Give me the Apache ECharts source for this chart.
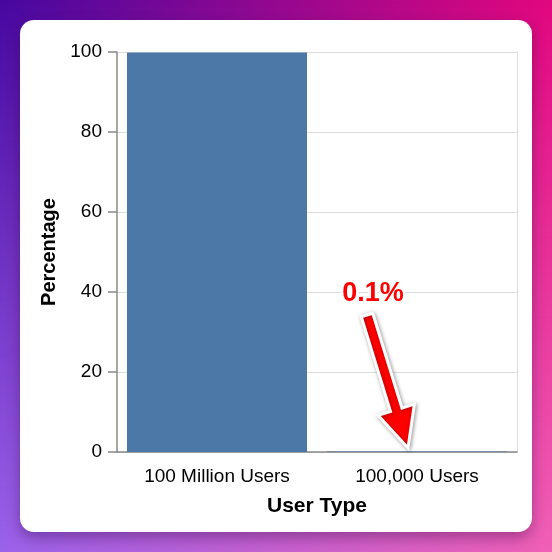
<!DOCTYPE html>
<html>
<head>
<meta charset="utf-8">
<script src="https://cdn.jsdelivr.net/npm/echarts@6/dist/echarts.min.js"></script>
<style>
  html, body { margin: 0; padding: 0; width: 552px; height: 552px; overflow: hidden; }
  #bgTop { position: absolute; left: 0; top: 0; width: 552px; height: 552px;
    background: linear-gradient(to right, #4608a0, #e2077e); }
  #bgBot { position: absolute; left: 0; top: 0; width: 552px; height: 552px;
    background: linear-gradient(to right, #9b62ea, #f060b6);
    -webkit-mask-image: linear-gradient(to bottom, rgba(0,0,0,0), rgba(0,0,0,1));
    mask-image: linear-gradient(to bottom, rgba(0,0,0,0), rgba(0,0,0,1)); }
  #card { position: absolute; left: 20px; top: 20px; width: 512px; height: 512px;
    background: #fff; border-radius: 14px; box-shadow: 0 6px 14px rgba(40,0,60,0.35); }
  #chart { position: absolute; left: 0; top: 0; width: 552px; height: 552px; }
</style>
</head>
<body>
<div id="bgTop"></div>
<div id="bgBot"></div>
<div id="card"></div>
<div id="chart"></div>
<script>
const categories = ['100 Million Users', '100,000 Users'];
const percentages = [99.9, 0.1];
const yTicks = [0, 20, 40, 60, 80, 100];
const xTitle = 'User Type';
const yTitle = 'Percentage';
const annotationText = '0.1%';
const annotatedCategory = '100,000 Users';

const FONT = 'Liberation Sans, Arial, Helvetica, sans-serif';
const chart = echarts.init(document.getElementById('chart'), null, { renderer: 'canvas' });

const option = {
  animation: false,
  backgroundColor: 'transparent',
  grid: { left: 117, right: 35, top: 52, bottom: 100, show: false },
  xAxis: {
    type: 'category',
    data: categories,
    name: xTitle,
    nameLocation: 'middle',
    nameGap: 44,
    nameTextStyle: { fontFamily: FONT, fontSize: 21, fontWeight: 'bold', color: '#000' },
    axisLine: { lineStyle: { color: '#888888', width: 1.5 } },
    axisTick: { alignWithLabel: true, length: 9, lineStyle: { color: '#888888', width: 1.5 } },
    axisLabel: { fontFamily: FONT, fontSize: 19, color: '#000', margin: 15 },
    splitLine: { show: false }
  },
  yAxis: [{
    type: 'value',
    min: yTicks[0],
    max: yTicks[yTicks.length - 1],
    interval: yTicks[1] - yTicks[0],
    name: yTitle,
    nameLocation: 'middle',
    nameGap: 58,
    nameRotate: 90,
    nameTextStyle: { fontFamily: FONT, fontSize: 20, fontWeight: 'bold', color: '#000' },
    axisLine: { show: true, lineStyle: { color: '#888888', width: 1.5 } },
    axisTick: { show: true, length: 9, lineStyle: { color: '#888888', width: 1.5 } },
    axisLabel: { fontFamily: FONT, fontSize: 19, color: '#000', margin: 15 },
    splitLine: { show: true, lineStyle: { color: '#dddddd', width: 1 } }
  }, {
    type: 'value',
    position: 'right',
    min: yTicks[0],
    max: yTicks[yTicks.length - 1],
    interval: yTicks[1] - yTicks[0],
    axisLine: { show: true, lineStyle: { color: '#dddddd', width: 1 } },
    axisTick: { show: false },
    axisLabel: { show: false },
    splitLine: { show: false }
  }],
  series: [{
    type: 'bar',
    data: percentages,
    barCategoryGap: '10%',
    itemStyle: { color: '#4c78a8' }
  }]
};
chart.setOption(option);

// Annotation arrow anchored to the annotated category's position
const base = chart.convertToPixel({ seriesIndex: 0 }, [annotatedCategory, 0]);
const cx = base[0], y0 = base[1];
const tip = [cx - 9, y0 - 4];
const tail = [cx - 50, y0 - 137];
const dx = tip[0] - tail[0], dy = tip[1] - tail[1];
const L = Math.sqrt(dx * dx + dy * dy);
const ux = dx / L, uy = dy / L, nx = -uy, ny = ux;
const headLen = 40, headHalf = 19, shaftHalf = 6;
const hb = [tip[0] - ux * headLen, tip[1] - uy * headLen];
const pts = [
  [tail[0] + nx * shaftHalf, tail[1] + ny * shaftHalf],
  [hb[0] + nx * shaftHalf, hb[1] + ny * shaftHalf],
  [hb[0] + nx * headHalf, hb[1] + ny * headHalf],
  tip,
  [hb[0] - nx * headHalf, hb[1] - ny * headHalf],
  [hb[0] - nx * shaftHalf, hb[1] - ny * shaftHalf],
  [tail[0] - nx * shaftHalf, tail[1] - ny * shaftHalf]
];

chart.setOption({
  graphic: [
    {
      type: 'polygon',
      shape: { points: pts },
      style: { fill: '#ff0000', stroke: '#ffffff', lineWidth: 3, lineJoin: 'miter',
        shadowBlur: 4, shadowColor: 'rgba(0,0,0,0.35)', shadowOffsetX: 1, shadowOffsetY: 1 },
      z: 100
    },
    {
      type: 'text',
      x: cx - 44,
      y: y0 - 158,
      style: {
        text: annotationText,
        fontFamily: FONT, fontSize: 27, fontWeight: 'bold',
        fill: '#ff0000', stroke: '#ffffff', lineWidth: 5,
        align: 'center', verticalAlign: 'middle',
        shadowBlur: 4, shadowColor: 'rgba(0,0,0,0.35)', shadowOffsetX: 1, shadowOffsetY: 1
      },
      z: 101
    }
  ]
});
</script>
</body>
</html>
